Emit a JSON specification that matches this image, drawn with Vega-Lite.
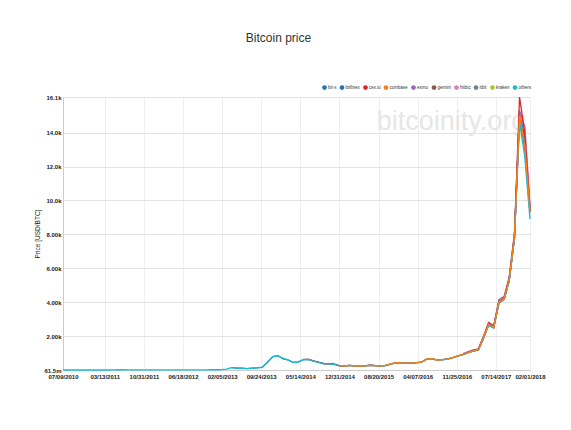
{
"$schema": "https://vega.github.io/schema/vega-lite/v6.json",
"autosize": "none",
"width": 467,
"height": 273,
"padding": {"left": 63, "top": 97, "right": 41, "bottom": 60},
"background": "white",
"title": {"text": "Bitcoin price", "font": "Liberation Sans", "fontSize": 12, "fontWeight": "normal", "color": "#333333", "anchor": "middle", "offset": 40, "dx": -18},
"config": {"view": {"stroke": null}, "font": "Liberation Sans", "axis": {"labelOverlap": false}},
"datasets": {
"wm": [{"d": "2016-10-25", "p": 14600, "t": "bitcoinity.org"}],
"prices": [
{"s":"bit-x","d":"2017-01-01","p":915},
{"s":"bit-x","d":"2017-02-01","p":1040},
{"s":"bit-x","d":"2017-03-01","p":1128},
{"s":"bit-x","d":"2017-04-01","p":1198},
{"s":"bit-x","d":"2017-05-01","p":1895},
{"s":"bit-x","d":"2017-06-01","p":2710},
{"s":"bit-x","d":"2017-07-01","p":2525},
{"s":"bit-x","d":"2017-08-01","p":4010},
{"s":"bit-x","d":"2017-09-01","p":4210},
{"s":"bit-x","d":"2017-10-01","p":5340},
{"s":"bit-x","d":"2017-11-01","p":7870},
{"s":"bit-x","d":"2017-12-01","p":15200},
{"s":"bit-x","d":"2018-01-01","p":13700},
{"s":"bit-x","d":"2018-02-01","p":9450},
{"s":"bitfinex","d":"2013-04-01","p":138},
{"s":"bitfinex","d":"2013-05-01","p":119},
{"s":"bitfinex","d":"2013-06-01","p":107},
{"s":"bitfinex","d":"2013-07-01","p":87},
{"s":"bitfinex","d":"2013-08-01","p":111},
{"s":"bitfinex","d":"2013-09-01","p":131},
{"s":"bitfinex","d":"2013-10-01","p":165},
{"s":"bitfinex","d":"2013-11-01","p":470},
{"s":"bitfinex","d":"2013-12-01","p":790},
{"s":"bitfinex","d":"2014-01-01","p":845},
{"s":"bitfinex","d":"2014-02-01","p":660},
{"s":"bitfinex","d":"2014-03-01","p":595},
{"s":"bitfinex","d":"2014-04-01","p":455},
{"s":"bitfinex","d":"2014-05-01","p":475},
{"s":"bitfinex","d":"2014-06-01","p":612},
{"s":"bitfinex","d":"2014-07-01","p":618},
{"s":"bitfinex","d":"2014-08-01","p":528},
{"s":"bitfinex","d":"2014-09-01","p":448},
{"s":"bitfinex","d":"2014-10-01","p":380},
{"s":"bitfinex","d":"2014-11-01","p":375},
{"s":"bitfinex","d":"2014-12-01","p":345},
{"s":"bitfinex","d":"2015-01-01","p":243},
{"s":"bitfinex","d":"2015-02-01","p":236},
{"s":"bitfinex","d":"2015-03-01","p":268},
{"s":"bitfinex","d":"2015-04-01","p":234},
{"s":"bitfinex","d":"2015-05-01","p":236},
{"s":"bitfinex","d":"2015-06-01","p":239},
{"s":"bitfinex","d":"2015-07-01","p":281},
{"s":"bitfinex","d":"2015-08-01","p":253},
{"s":"bitfinex","d":"2015-09-01","p":235},
{"s":"bitfinex","d":"2015-10-01","p":266},
{"s":"bitfinex","d":"2015-11-01","p":352},
{"s":"bitfinex","d":"2015-12-01","p":428},
{"s":"bitfinex","d":"2016-01-01","p":412},
{"s":"bitfinex","d":"2016-02-01","p":404},
{"s":"bitfinex","d":"2016-03-01","p":414},
{"s":"bitfinex","d":"2016-04-01","p":431},
{"s":"bitfinex","d":"2016-05-01","p":458},
{"s":"bitfinex","d":"2016-06-01","p":655},
{"s":"bitfinex","d":"2016-07-01","p":662},
{"s":"bitfinex","d":"2016-08-01","p":578},
{"s":"bitfinex","d":"2016-09-01","p":606},
{"s":"bitfinex","d":"2016-10-01","p":642},
{"s":"bitfinex","d":"2016-11-01","p":728},
{"s":"bitfinex","d":"2016-12-01","p":825},
{"s":"bitfinex","d":"2017-01-01","p":915},
{"s":"bitfinex","d":"2017-02-01","p":1035},
{"s":"bitfinex","d":"2017-03-01","p":1125},
{"s":"bitfinex","d":"2017-04-01","p":1190},
{"s":"bitfinex","d":"2017-05-01","p":1880},
{"s":"bitfinex","d":"2017-06-01","p":2680},
{"s":"bitfinex","d":"2017-07-01","p":2500},
{"s":"bitfinex","d":"2017-08-01","p":3980},
{"s":"bitfinex","d":"2017-09-01","p":4180},
{"s":"bitfinex","d":"2017-10-01","p":5300},
{"s":"bitfinex","d":"2017-11-01","p":7800},
{"s":"bitfinex","d":"2017-12-01","p":15100},
{"s":"bitfinex","d":"2018-01-01","p":13400},
{"s":"bitfinex","d":"2018-02-01","p":9300},
{"s":"kraken","d":"2017-01-01","p":905},
{"s":"kraken","d":"2017-02-01","p":1030},
{"s":"kraken","d":"2017-03-01","p":1115},
{"s":"kraken","d":"2017-04-01","p":1185},
{"s":"kraken","d":"2017-05-01","p":1860},
{"s":"kraken","d":"2017-06-01","p":2660},
{"s":"kraken","d":"2017-07-01","p":2490},
{"s":"kraken","d":"2017-08-01","p":3960},
{"s":"kraken","d":"2017-09-01","p":4160},
{"s":"kraken","d":"2017-10-01","p":5270},
{"s":"kraken","d":"2017-11-01","p":7780},
{"s":"kraken","d":"2017-12-01","p":14900},
{"s":"kraken","d":"2018-01-01","p":13150},
{"s":"kraken","d":"2018-02-01","p":9300},
{"s":"itbit","d":"2017-01-01","p":910},
{"s":"itbit","d":"2017-02-01","p":1035},
{"s":"itbit","d":"2017-03-01","p":1120},
{"s":"itbit","d":"2017-04-01","p":1190},
{"s":"itbit","d":"2017-05-01","p":1870},
{"s":"itbit","d":"2017-06-01","p":2670},
{"s":"itbit","d":"2017-07-01","p":2500},
{"s":"itbit","d":"2017-08-01","p":3970},
{"s":"itbit","d":"2017-09-01","p":4170},
{"s":"itbit","d":"2017-10-01","p":5290},
{"s":"itbit","d":"2017-11-01","p":7790},
{"s":"itbit","d":"2017-12-01","p":14950},
{"s":"itbit","d":"2018-01-01","p":13100},
{"s":"itbit","d":"2018-02-01","p":9300},
{"s":"gemini","d":"2017-01-01","p":912},
{"s":"gemini","d":"2017-02-01","p":1038},
{"s":"gemini","d":"2017-03-01","p":1125},
{"s":"gemini","d":"2017-04-01","p":1192},
{"s":"gemini","d":"2017-05-01","p":1875},
{"s":"gemini","d":"2017-06-01","p":2690},
{"s":"gemini","d":"2017-07-01","p":2510},
{"s":"gemini","d":"2017-08-01","p":3990},
{"s":"gemini","d":"2017-09-01","p":4190},
{"s":"gemini","d":"2017-10-01","p":5310},
{"s":"gemini","d":"2017-11-01","p":7820},
{"s":"gemini","d":"2017-12-01","p":14950},
{"s":"gemini","d":"2018-01-01","p":13200},
{"s":"gemini","d":"2018-02-01","p":9350},
{"s":"exmo","d":"2017-01-01","p":960},
{"s":"exmo","d":"2017-02-01","p":1090},
{"s":"exmo","d":"2017-03-01","p":1180},
{"s":"exmo","d":"2017-04-01","p":1250},
{"s":"exmo","d":"2017-05-01","p":1980},
{"s":"exmo","d":"2017-06-01","p":2820},
{"s":"exmo","d":"2017-07-01","p":2620},
{"s":"exmo","d":"2017-08-01","p":4150},
{"s":"exmo","d":"2017-09-01","p":4350},
{"s":"exmo","d":"2017-10-01","p":5500},
{"s":"exmo","d":"2017-11-01","p":8100},
{"s":"exmo","d":"2017-12-01","p":15300},
{"s":"exmo","d":"2018-01-01","p":14300},
{"s":"exmo","d":"2018-02-01","p":9650},
{"s":"hitbtc","d":"2017-01-01","p":920},
{"s":"hitbtc","d":"2017-02-01","p":1045},
{"s":"hitbtc","d":"2017-03-01","p":1135},
{"s":"hitbtc","d":"2017-04-01","p":1205},
{"s":"hitbtc","d":"2017-05-01","p":1910},
{"s":"hitbtc","d":"2017-06-01","p":2740},
{"s":"hitbtc","d":"2017-07-01","p":2540},
{"s":"hitbtc","d":"2017-08-01","p":4030},
{"s":"hitbtc","d":"2017-09-01","p":4230},
{"s":"hitbtc","d":"2017-10-01","p":5370},
{"s":"hitbtc","d":"2017-11-01","p":7900},
{"s":"hitbtc","d":"2017-12-01","p":15000},
{"s":"hitbtc","d":"2018-01-01","p":14400},
{"s":"hitbtc","d":"2018-02-01","p":9700},
{"s":"cex.io","d":"2014-06-01","p":625},
{"s":"cex.io","d":"2014-07-01","p":625},
{"s":"cex.io","d":"2014-08-01","p":535},
{"s":"cex.io","d":"2014-09-01","p":455},
{"s":"cex.io","d":"2014-10-01","p":370},
{"s":"cex.io","d":"2014-11-01","p":370},
{"s":"cex.io","d":"2014-12-01","p":345},
{"s":"cex.io","d":"2015-01-01","p":250},
{"s":"cex.io","d":"2015-02-01","p":240},
{"s":"cex.io","d":"2015-03-01","p":275},
{"s":"cex.io","d":"2015-04-01","p":238},
{"s":"cex.io","d":"2015-05-01","p":240},
{"s":"cex.io","d":"2015-06-01","p":242},
{"s":"cex.io","d":"2015-07-01","p":285},
{"s":"cex.io","d":"2015-08-01","p":258},
{"s":"cex.io","d":"2015-09-01","p":238},
{"s":"cex.io","d":"2015-10-01","p":270},
{"s":"cex.io","d":"2015-11-01","p":358},
{"s":"cex.io","d":"2015-12-01","p":432},
{"s":"cex.io","d":"2016-01-01","p":418},
{"s":"cex.io","d":"2016-02-01","p":410},
{"s":"cex.io","d":"2016-03-01","p":420},
{"s":"cex.io","d":"2016-04-01","p":438},
{"s":"cex.io","d":"2016-05-01","p":462},
{"s":"cex.io","d":"2016-06-01","p":662},
{"s":"cex.io","d":"2016-07-01","p":672},
{"s":"cex.io","d":"2016-08-01","p":585},
{"s":"cex.io","d":"2016-09-01","p":612},
{"s":"cex.io","d":"2016-10-01","p":650},
{"s":"cex.io","d":"2016-11-01","p":735},
{"s":"cex.io","d":"2016-12-01","p":835},
{"s":"cex.io","d":"2017-01-01","p":925},
{"s":"cex.io","d":"2017-02-01","p":1050},
{"s":"cex.io","d":"2017-03-01","p":1140},
{"s":"cex.io","d":"2017-04-01","p":1210},
{"s":"cex.io","d":"2017-05-01","p":1920},
{"s":"cex.io","d":"2017-06-01","p":2760},
{"s":"cex.io","d":"2017-07-01","p":2560},
{"s":"cex.io","d":"2017-08-01","p":4050},
{"s":"cex.io","d":"2017-09-01","p":4250},
{"s":"cex.io","d":"2017-10-01","p":5400},
{"s":"cex.io","d":"2017-11-01","p":7950},
{"s":"cex.io","d":"2017-12-01","p":16100},
{"s":"cex.io","d":"2018-01-01","p":14000},
{"s":"cex.io","d":"2018-02-01","p":9500},
{"s":"others","d":"2010-07-09","p":0.0615},
{"s":"others","d":"2010-08-01","p":0.067},
{"s":"others","d":"2010-09-01","p":0.062},
{"s":"others","d":"2010-10-01","p":0.11},
{"s":"others","d":"2010-11-01","p":0.28},
{"s":"others","d":"2010-12-01","p":0.24},
{"s":"others","d":"2011-01-01","p":0.38},
{"s":"others","d":"2011-02-01","p":0.86},
{"s":"others","d":"2011-03-01","p":0.86},
{"s":"others","d":"2011-04-01","p":1.2},
{"s":"others","d":"2011-05-01","p":6.5},
{"s":"others","d":"2011-06-01","p":18},
{"s":"others","d":"2011-07-01","p":14},
{"s":"others","d":"2011-08-01","p":10},
{"s":"others","d":"2011-09-01","p":5.3},
{"s":"others","d":"2011-10-01","p":3.6},
{"s":"others","d":"2011-11-01","p":2.6},
{"s":"others","d":"2011-12-01","p":3.3},
{"s":"others","d":"2012-01-01","p":6.3},
{"s":"others","d":"2012-02-01","p":5.3},
{"s":"others","d":"2012-03-01","p":4.9},
{"s":"others","d":"2012-04-01","p":5},
{"s":"others","d":"2012-05-01","p":5.1},
{"s":"others","d":"2012-06-01","p":6},
{"s":"others","d":"2012-07-01","p":8},
{"s":"others","d":"2012-08-01","p":10.5},
{"s":"others","d":"2012-09-01","p":11.5},
{"s":"others","d":"2012-10-01","p":11.8},
{"s":"others","d":"2012-11-01","p":11.5},
{"s":"others","d":"2012-12-01","p":13.4},
{"s":"others","d":"2013-01-01","p":15.5},
{"s":"others","d":"2013-02-01","p":25},
{"s":"others","d":"2013-03-01","p":55},
{"s":"others","d":"2013-04-01","p":140},
{"s":"others","d":"2013-05-01","p":118},
{"s":"others","d":"2013-06-01","p":108},
{"s":"others","d":"2013-07-01","p":86},
{"s":"others","d":"2013-08-01","p":110},
{"s":"others","d":"2013-09-01","p":130},
{"s":"others","d":"2013-10-01","p":160},
{"s":"others","d":"2013-11-01","p":450},
{"s":"others","d":"2013-12-01","p":780},
{"s":"others","d":"2014-01-01","p":850},
{"s":"others","d":"2014-02-01","p":680},
{"s":"others","d":"2014-03-01","p":600},
{"s":"others","d":"2014-04-01","p":450},
{"s":"others","d":"2014-05-01","p":470},
{"s":"others","d":"2014-06-01","p":615},
{"s":"others","d":"2014-07-01","p":620},
{"s":"others","d":"2014-08-01","p":530},
{"s":"others","d":"2014-09-01","p":450},
{"s":"others","d":"2014-10-01","p":365},
{"s":"others","d":"2014-11-01","p":360},
{"s":"others","d":"2014-12-01","p":330},
{"s":"others","d":"2015-01-01","p":245},
{"s":"others","d":"2015-02-01","p":235},
{"s":"others","d":"2015-03-01","p":270},
{"s":"others","d":"2015-04-01","p":235},
{"s":"others","d":"2015-05-01","p":237},
{"s":"others","d":"2015-06-01","p":238},
{"s":"others","d":"2015-07-01","p":280},
{"s":"others","d":"2015-08-01","p":255},
{"s":"others","d":"2015-09-01","p":234},
{"s":"others","d":"2015-10-01","p":265},
{"s":"others","d":"2015-11-01","p":350},
{"s":"others","d":"2015-12-01","p":425},
{"s":"others","d":"2016-01-01","p":410},
{"s":"others","d":"2016-02-01","p":405},
{"s":"others","d":"2016-03-01","p":415},
{"s":"others","d":"2016-04-01","p":430},
{"s":"others","d":"2016-05-01","p":455},
{"s":"others","d":"2016-06-01","p":650},
{"s":"others","d":"2016-07-01","p":665},
{"s":"others","d":"2016-08-01","p":575},
{"s":"others","d":"2016-09-01","p":605},
{"s":"others","d":"2016-10-01","p":640},
{"s":"others","d":"2016-11-01","p":725},
{"s":"others","d":"2016-12-01","p":820},
{"s":"others","d":"2017-01-01","p":910},
{"s":"others","d":"2017-02-01","p":1030},
{"s":"others","d":"2017-03-01","p":1120},
{"s":"others","d":"2017-04-01","p":1180},
{"s":"others","d":"2017-05-01","p":1850},
{"s":"others","d":"2017-06-01","p":2650},
{"s":"others","d":"2017-07-01","p":2480},
{"s":"others","d":"2017-08-01","p":3950},
{"s":"others","d":"2017-09-01","p":4150},
{"s":"others","d":"2017-10-01","p":5250},
{"s":"others","d":"2017-11-01","p":7750},
{"s":"others","d":"2017-12-01","p":14600},
{"s":"others","d":"2018-01-01","p":12600},
{"s":"others","d":"2018-02-01","p":8900},
{"s":"coinbase","d":"2015-01-01","p":248},
{"s":"coinbase","d":"2015-02-01","p":237},
{"s":"coinbase","d":"2015-03-01","p":271},
{"s":"coinbase","d":"2015-04-01","p":235},
{"s":"coinbase","d":"2015-05-01","p":237},
{"s":"coinbase","d":"2015-06-01","p":240},
{"s":"coinbase","d":"2015-07-01","p":281},
{"s":"coinbase","d":"2015-08-01","p":254},
{"s":"coinbase","d":"2015-09-01","p":235},
{"s":"coinbase","d":"2015-10-01","p":268},
{"s":"coinbase","d":"2015-11-01","p":355},
{"s":"coinbase","d":"2015-12-01","p":430},
{"s":"coinbase","d":"2016-01-01","p":413},
{"s":"coinbase","d":"2016-02-01","p":406},
{"s":"coinbase","d":"2016-03-01","p":416},
{"s":"coinbase","d":"2016-04-01","p":432},
{"s":"coinbase","d":"2016-05-01","p":459},
{"s":"coinbase","d":"2016-06-01","p":655},
{"s":"coinbase","d":"2016-07-01","p":664},
{"s":"coinbase","d":"2016-08-01","p":577},
{"s":"coinbase","d":"2016-09-01","p":607},
{"s":"coinbase","d":"2016-10-01","p":643},
{"s":"coinbase","d":"2016-11-01","p":730},
{"s":"coinbase","d":"2016-12-01","p":830},
{"s":"coinbase","d":"2017-01-01","p":915},
{"s":"coinbase","d":"2017-02-01","p":1040},
{"s":"coinbase","d":"2017-03-01","p":1130},
{"s":"coinbase","d":"2017-04-01","p":1195},
{"s":"coinbase","d":"2017-05-01","p":1890},
{"s":"coinbase","d":"2017-06-01","p":2700},
{"s":"coinbase","d":"2017-07-01","p":2520},
{"s":"coinbase","d":"2017-08-01","p":4000},
{"s":"coinbase","d":"2017-09-01","p":4200},
{"s":"coinbase","d":"2017-10-01","p":5330},
{"s":"coinbase","d":"2017-11-01","p":7850},
{"s":"coinbase","d":"2017-12-01","p":15000},
{"s":"coinbase","d":"2018-01-01","p":13300},
{"s":"coinbase","d":"2018-02-01","p":9400}
]
},
"encoding": {
"x": {"field": "d", "type": "temporal",
"scale": {"type": "utc", "domain": [{"year": 2010, "month": 7, "date": 9, "utc": true}, {"year": 2018, "month": 2, "date": 1, "utc": true}]},
"axis": {"title": null, "format": "%m/%d/%Y",
"values": [
{"year": 2010, "month": 7, "date": 9, "utc": true},
{"year": 2011, "month": 3, "date": 13, "utc": true},
{"year": 2011, "month": 10, "date": 31, "utc": true},
{"year": 2012, "month": 6, "date": 18, "utc": true},
{"year": 2013, "month": 2, "date": 5, "utc": true},
{"year": 2013, "month": 9, "date": 24, "utc": true},
{"year": 2014, "month": 5, "date": 14, "utc": true},
{"year": 2014, "month": 12, "date": 31, "utc": true},
{"year": 2015, "month": 8, "date": 20, "utc": true},
{"year": 2016, "month": 4, "date": 7, "utc": true},
{"year": 2016, "month": 11, "date": 25, "utc": true},
{"year": 2017, "month": 7, "date": 14, "utc": true},
{"year": 2018, "month": 2, "date": 1, "utc": true}
],
"labelFont": "Liberation Sans", "labelFontSize": 6, "labelFontWeight": "bold", "labelColor": "#222222",
"labelOverlap": false, "labelFlush": false, "labelPadding": 3,
"ticks": false, "grid": true, "gridColor": "#eeeeee", "domainColor": "#cccccc"}
},
"y": {"field": "p", "type": "quantitative",
"scale": {"domain": [0.0615, 16100], "nice": false, "zero": false},
"axis": {"title": "Price [USD/BTC]", "format": ".3s",
"values": [0.0615, 2000, 4000, 6000, 8000, 10000, 12000, 14000, 16100],
"labelFont": "Liberation Sans", "labelFontSize": 6, "labelFontWeight": "bold", "labelColor": "#222222",
"labelOverlap": false, "labelPadding": 2, "ticks": false, "grid": true, "gridColor": "#e2e2e2", "domainColor": "#cccccc",
"titleFont": "Liberation Sans", "titleFontSize": 6.5, "titleFontWeight": "normal", "titleColor": "#222222", "titlePadding": 3}
}
},
"layer": [
{
"data": {"name": "wm"},
"mark": {"type": "text", "font": "Liberation Sans", "fontSize": 27, "color": "#e6e6e6", "align": "center", "baseline": "middle"},
"encoding": {
"text": {"field": "t"}
}
},
{
"data": {"name": "prices"},
"mark": {"type": "line", "strokeWidth": 1.3},
"encoding": {
"color": {"field": "s", "type": "nominal",
"scale": {"domain": ["bit-x", "bitfinex", "cex.io", "coinbase", "exmo", "gemini", "hitbtc", "itbit", "kraken", "others"],
"range": ["#1f77b4", "#2a6fb8", "#d62728", "#ff7f0e", "#9467bd", "#8c564b", "#e377c2", "#7f7f7f", "#bcbd22", "#17becf"]},
"legend": {"title": null, "orient": "none", "legendX": 259, "legendY": -12, "direction": "horizontal", "columns": 10,
"symbolType": "circle", "symbolSize": 22, "symbolStrokeWidth": 0, "labelFont": "Liberation Sans", "labelFontSize": 4.5,
"labelColor": "#333333", "labelOffset": 1, "columnPadding": 2.5,
"encode": {"symbols": {"update": {"fill": {"signal": "scale('color', datum.value)"}, "fillOpacity": {"value": 1}}}}}
}
}
}
]
}
